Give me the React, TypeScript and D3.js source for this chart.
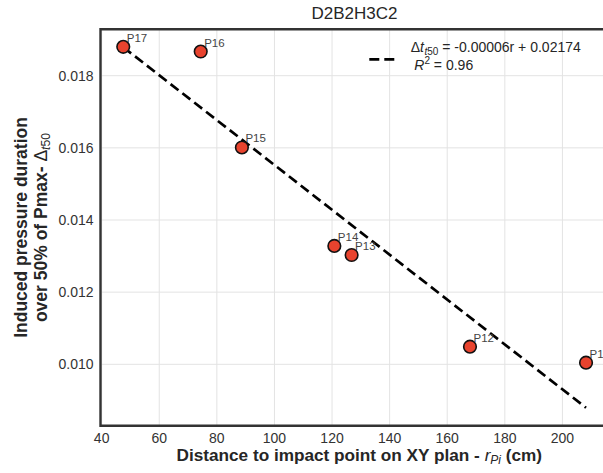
import React from "react";
import * as d3 from "d3";

const title = "D2B2H3C2";
const pointLabels = ["P17", "P16", "P15", "P14", "P13", "P12", "P11"];
const rValues = [47.5, 74.4, 88.7, 120.8, 126.8, 167.9, 208.2];
const dtValues = [0.0188, 0.01867, 0.01601, 0.01328, 0.01303, 0.010488, 0.010044];
const xTicks = [40, 60, 80, 100, 120, 140, 160, 180, 200];
const yTicks = [0.01, 0.012, 0.014, 0.016, 0.018];
const fitText = " = -0.00006r + 0.02174";
const r2Text = " = 0.96";

const W = 603;
const H = 473;
const left = 100.5;
const right = 618;
const top = 29.3;
const bottom = 425.7;

const FONT = "'Liberation Sans', Arial, Helvetica, sans-serif";

export default function App() {
  const x = d3.scaleLinear().domain([39.6, 219.3]).range([left, right]);
  const y = d3.scaleLinear().domain([0.008298, 0.019286]).range([bottom, top]);

  // least squares fit from the data
  const mx = d3.mean(rValues)!;
  const my = d3.mean(dtValues)!;
  let sxy = 0;
  let sxx = 0;
  rValues.forEach((r, i) => {
    sxy += (r - mx) * (dtValues[i] - my);
    sxx += (r - mx) * (r - mx);
  });
  const slope = sxy / sxx;
  const intercept = my - slope * mx;
  const rMin = d3.min(rValues)!;
  const rMax = d3.max(rValues)!;
  const line = d3
    .line<number>()
    .x((r) => x(r))
    .y((r) => y(intercept + slope * r));

  const tickColor = "#333333";

  return (
    <svg
      width={W}
      height={H}
      style={{ position: "absolute", left: 0, top: 0, background: "#ffffff" }}
      fontFamily={FONT}
    >
      <rect x={0} y={0} width={W} height={H} fill="#ffffff" />
      {/* grid */}
      {xTicks.map((t) => (
        <line key={"gx" + t} x1={x(t)} x2={x(t)} y1={top} y2={bottom} stroke="#e3e3e3" strokeWidth={1} />
      ))}
      {yTicks.map((t) => (
        <line key={"gy" + t} x1={left} x2={right} y1={y(t)} y2={y(t)} stroke="#e3e3e3" strokeWidth={1} />
      ))}
      {/* fit line */}
      <path
        d={line([rMin, rMax]) || ""}
        fill="none"
        stroke="#000000"
        strokeWidth={2.7}
        strokeDasharray="10,5"
      />
      {/* points */}
      {rValues.map((r, i) => (
        <g key={"p" + i}>
          <circle cx={x(r)} cy={y(dtValues[i])} r={6.3} fill="#e8432e" stroke="#111111" strokeWidth={1.6} />
          <text x={x(r) + 3.5} y={y(dtValues[i]) - 5} fontSize={11.5} fill="#444444">
            {pointLabels[i]}
          </text>
        </g>
      ))}
      {/* spines */}
      <line x1={left} x2={left} y1={top - 1.2} y2={bottom + 1.2} stroke="#333333" strokeWidth={2.4} />
      <line x1={left} x2={right} y1={bottom} y2={bottom} stroke="#333333" strokeWidth={2.4} />
      <line x1={left} x2={right} y1={top} y2={top} stroke="#333333" strokeWidth={2.4} />
      {/* x tick labels */}
      {xTicks.map((t) => (
        <text key={"tx" + t} x={x(t)} y={443.3} fontSize={14} fill={tickColor} textAnchor="middle">
          {String(t)}
        </text>
      ))}
      {/* y tick labels */}
      {yTicks.map((t) => (
        <text
          key={"ty" + t}
          x={93.5}
          y={y(t)}
          fontSize={14}
          fill={tickColor}
          textAnchor="end"
          dominantBaseline="central"
        >
          {d3.format(".3f")(t)}
        </text>
      ))}
      {/* title */}
      <text x={354.5} y={18.5} fontSize={17} fill="#262626" textAnchor="middle">
        {title}
      </text>
      {/* x label */}
      <text x={359.3} y={460.8} fontSize={17.2} fontWeight="bold" fill="#262626" textAnchor="middle">
        Distance to impact point on XY plan -{" "}
        <tspan fontStyle="italic" fontWeight="normal">r</tspan>
        <tspan fontStyle="italic" fontWeight="normal" fontSize={12} dy={3}>Pi</tspan>
        <tspan dy={-3}> (cm)</tspan>
      </text>
      {/* y label */}
      <g transform="translate(26.5,227.5) rotate(-90)">
        <text x={0} y={0} fontSize={17.5} fontWeight="bold" fill="#262626" textAnchor="middle">
          Induced pressure duration
        </text>
      </g>
      <g transform="translate(46.5,227.5) rotate(-90)">
        <text x={0} y={0} fontSize={17.5} fontWeight="bold" fill="#262626" textAnchor="middle">
          over 50% of Pmax-{" "}
          <tspan fontWeight="normal">Δ</tspan>
          <tspan fontWeight="normal" fontSize={12.2} dy={3}>
            <tspan fontStyle="italic">t</tspan>50
          </tspan>
        </text>
      </g>
      {/* legend */}
      <line x1={369.3} x2={394.3} y1={59.3} y2={59.3} stroke="#000000" strokeWidth={2.7} strokeDasharray="10,5" />
      <text x={410.7} y={51.7} fontSize={14} fill="#262626">
        Δ<tspan fontStyle="italic">t</tspan>
        <tspan fontSize={10} dy={3} dx={0.5}>
          <tspan fontStyle="italic">t</tspan>50
        </tspan>
        <tspan dy={-3}>{fitText}</tspan>
      </text>
      <text x={414.3} y={70} fontSize={14} fill="#262626">
        <tspan fontStyle="italic">R</tspan>
        <tspan fontSize={10} dy={-6}>2</tspan>
        <tspan dy={6}>{r2Text}</tspan>
      </text>
    </svg>
  );
}
